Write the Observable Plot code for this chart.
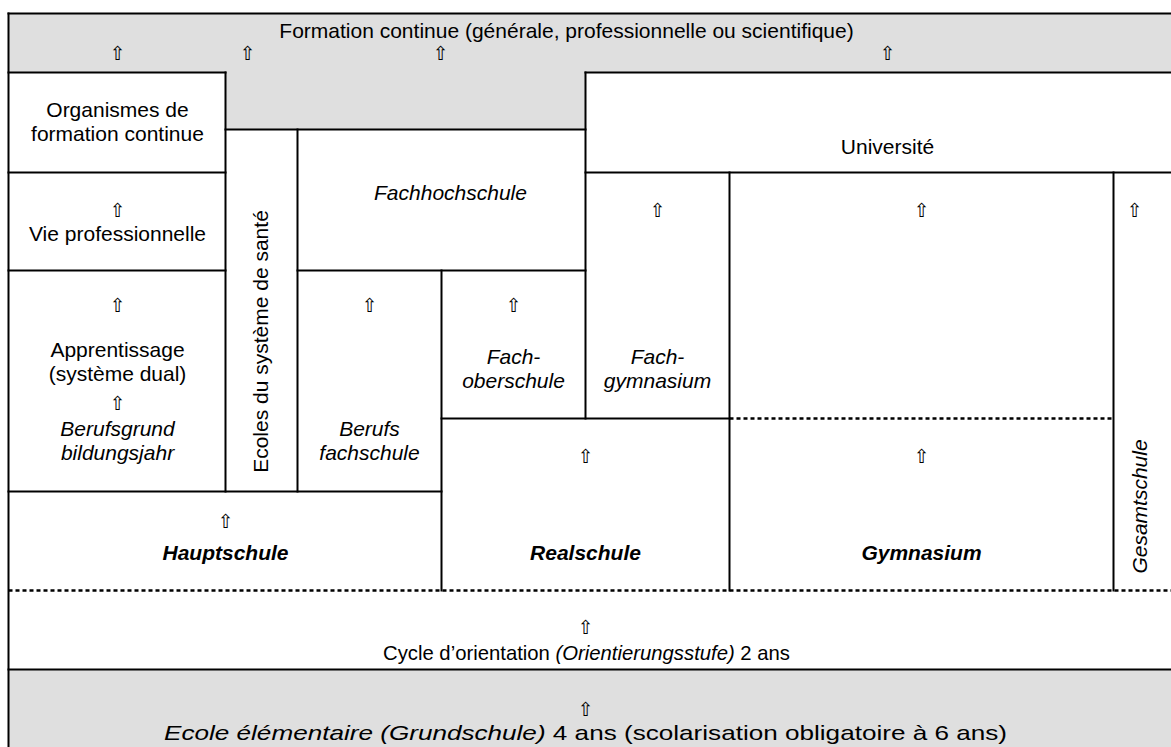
<!DOCTYPE html>
<html>
<head>
<meta charset="utf-8">
<script src="https://cdn.jsdelivr.net/npm/d3@7"></script>
<script src="https://cdn.jsdelivr.net/npm/@observablehq/plot@0.6"></script>
<style>
  body { margin: 0; background: #fff; }
  #chart svg { display: block; }
</style>
</head>
<body>
<div id="chart"></div>
<script>
// Diagram layout (pixel grid of the schema)
const W = 1171, H = 747;

// Shaded (grey) areas
const shaded = [
  {x1: 8,   x2: 1171, y1: 13,  y2: 72},   // Formation continue band
  {x1: 225, x2: 585,  y1: 72,  y2: 129},  // pocket under the band
  {x1: 8,   x2: 1171, y1: 669, y2: 747}   // Ecole élémentaire
];

// Horizontal lines
const hLines = [
  {y: 13,  x1: 8,   x2: 1171, dashed: false},
  {y: 72,  x1: 8,   x2: 225,  dashed: false},
  {y: 72,  x1: 585, x2: 1171, dashed: false},
  {y: 129, x1: 225, x2: 585,  dashed: false},
  {y: 172, x1: 8,   x2: 225,  dashed: false},
  {y: 172, x1: 585, x2: 1171, dashed: false},
  {y: 270, x1: 8,   x2: 225,  dashed: false},
  {y: 270, x1: 297, x2: 585,  dashed: false},
  {y: 418, x1: 441, x2: 729,  dashed: false},
  {y: 418, x1: 729, x2: 1113, dashed: true},
  {y: 491, x1: 8,   x2: 441,  dashed: false},
  {y: 590, x1: 8,   x2: 1171, dashed: true},
  {y: 669, x1: 8,   x2: 1171, dashed: false}
];

// Vertical lines
const vLines = [
  {x: 8,    y1: 13,  y2: 747},
  {x: 225,  y1: 72,  y2: 491},
  {x: 297,  y1: 129, y2: 491},
  {x: 441,  y1: 270, y2: 590},
  {x: 585,  y1: 72,  y2: 418},
  {x: 729,  y1: 172, y2: 590},
  {x: 1113, y1: 172, y2: 590}
];

// Labels (regular)
const labelsRegular = [
  {x: 566, y: 30,  text: "Formation continue (générale, professionnelle ou scientifique)"},
  {x: 117, y: 121, text: "Organismes de\nformation continue"},
  {x: 117, y: 233, text: "Vie professionnelle"},
  {x: 887, y: 146, text: "Université"},
  {x: 117, y: 361, text: "Apprentissage\n(système dual)"},
  {x: 586, y: 652, text: "Cycle d’orientation *(Orientierungsstufe)* 2 ans"},
  {x: 585, y: 732, text: "*Ecole élémentaire (Grundschule)* 4 ans (scolarisation obligatoire à 6 ans)"}
];
// Labels (italic)
const labelsItalic = [
  {x: 450, y: 192, text: "Fachhochschule"},
  {x: 117, y: 440, text: "Berufsgrund\nbildungsjahr"},
  {x: 369, y: 440, text: "Berufs\nfachschule"},
  {x: 513, y: 368, text: "Fach-\noberschule"},
  {x: 657, y: 368, text: "Fach-\ngymnasium"}
];
// Labels (bold italic)
const labelsBold = [
  {x: 225, y: 553, text: "Hauptschule"},
  {x: 585, y: 553, text: "Realschule"},
  {x: 921, y: 553, text: "Gymnasium"}
];
// Rotated labels
const labelsRotated = [
  {x: 261,  y: 341, text: "Ecoles du système de santé", italic: false},
  {x: 1140, y: 506, text: "Gesamtschule", italic: true}
];
// Arrows
const arrows = [
  {x: 117, y: 53}, {x: 247, y: 53}, {x: 440, y: 53}, {x: 887, y: 53},
  {x: 117, y: 210}, {x: 657, y: 210}, {x: 921, y: 210}, {x: 1134, y: 210},
  {x: 117, y: 305}, {x: 369, y: 305}, {x: 513, y: 305},
  {x: 117, y: 403},
  {x: 585, y: 456}, {x: 921, y: 456},
  {x: 225, y: 521},
  {x: 585, y: 627},
  {x: 585, y: 709}
];

const FONT = "'Liberation Sans', Arial, sans-serif";
const FS = 21;
const LH = 1.12;

const chart = Plot.plot({
  width: W,
  height: H,
  margin: 0,
  style: {fontFamily: FONT, background: "#fff"},
  x: {domain: [0, W], range: [0, W], axis: null},
  y: {domain: [0, H], range: [0, H], axis: null},
  marks: [
    Plot.rect(shaded, {x1: "x1", x2: "x2", y1: "y1", y2: "y2", fill: "#dfdfdf"}),
    Plot.link(hLines.filter(d => !d.dashed), {x1: "x1", x2: "x2", y1: "y", y2: "y", stroke: "#000", strokeWidth: 2, strokeLinecap: "square"}),
    Plot.link(hLines.filter(d => d.dashed), {x1: "x1", x2: "x2", y1: "y", y2: "y", stroke: "#000", strokeWidth: 2.5, strokeDasharray: "4,3"}),
    Plot.link(vLines, {x1: "x", x2: "x", y1: "y1", y2: "y2", stroke: "#000", strokeWidth: 2, strokeLinecap: "square"}),
    Plot.text(labelsRegular, {x: "x", y: "y", text: "text", fontSize: FS, lineHeight: LH, fill: "#000"}),
    Plot.text(labelsItalic, {x: "x", y: "y", text: "text", fontSize: FS, lineHeight: LH, fontStyle: "italic", fill: "#000"}),
    Plot.text(labelsBold, {x: "x", y: "y", text: "text", fontSize: FS, fontStyle: "italic", fontWeight: "bold", fill: "#000"}),
    Plot.text(labelsRotated.filter(d => !d.italic), {x: "x", y: "y", text: "text", fontSize: FS, rotate: -90, fill: "#000"}),
    Plot.text(labelsRotated.filter(d => d.italic), {x: "x", y: "y", text: "text", fontSize: FS, rotate: -90, fontStyle: "italic", fill: "#000"}),
    Plot.text(arrows, {x: "x", y: "y", text: () => "⇧", fontSize: 19, fontFamily: "'DejaVu Sans', sans-serif", fill: "#000", opacity: 0.999})
  ]
});

// Mixed-style lines: segments between * are italic
d3.select(chart).selectAll("text").each(function () {
  const t = this.textContent;
  if (t.includes("*") && this.childElementCount === 0) {
    this.textContent = "";
    t.split("*").forEach((seg, i) => {
      if (!seg) return;
      const ts = document.createElementNS("http://www.w3.org/2000/svg", "tspan");
      ts.textContent = seg;
      if (i % 2 === 1) ts.setAttribute("font-style", "italic");
      this.appendChild(ts);
    });
    this.setAttribute("xml:space", "preserve");
    if (t.startsWith("Cycle")) {
      this.setAttribute("font-size", 20.3);
    } else {
      // the elementary-school line is set wider in the schema
      this.setAttribute("textLength", 843);
      this.setAttribute("lengthAdjust", "spacingAndGlyphs");
    }
  }
});

document.getElementById("chart").appendChild(chart);
</script>
</body>
</html>
